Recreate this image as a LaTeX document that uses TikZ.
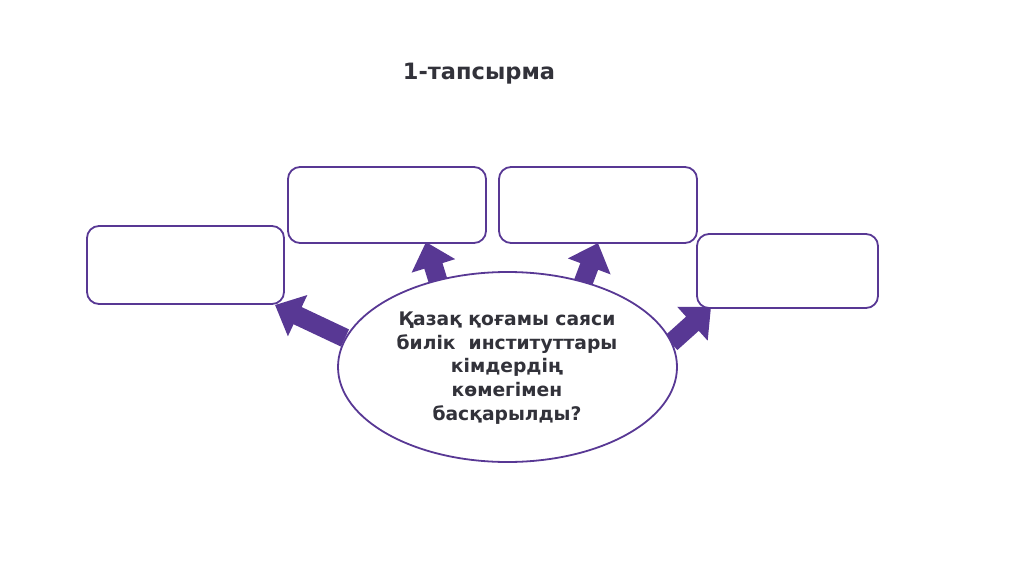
\documentclass[tikz,border=0pt]{standalone}
\usepackage{fontspec}
\setmainfont{DejaVu Sans}
\usetikzlibrary{shapes.geometric,arrows.meta}
\definecolor{pp}{RGB}{88,56,148}
\definecolor{ink}{RGB}{50,50,58}
\tikzset{
  box/.style={draw=pp, line width=1.8pt, fill=white, rounded corners=12pt, minimum width=#1, inner sep=0pt},
  bigarrow/.style={pp, line width=19pt, -{Triangle[width=44pt 0,length=25pt 0]}},
}
\begin{document}
\begin{tikzpicture}[x=1pt,y=1pt]
\useasboundingbox (0,0) rectangle (1024,574);
% arrows
\coordinate (s1) at (345,236); \coordinate (t1) at (275,269);
\coordinate (s2) at (439,290); \coordinate (t2) at (426,332);
\coordinate (s3) at (583,291); \coordinate (t3) at (598,331);
\coordinate (s4) at (671,231); \coordinate (t4) at (711,267);
\draw[bigarrow] (s1) -- (t1);
\draw[bigarrow] (s2) -- (t2);
\draw[bigarrow] (s3) -- (t3);
\draw[bigarrow] (s4) -- (t4);
% boxes
\node[box=197pt, minimum height=78pt] (bA) at (185.5,309) {};
\node[box=198pt, minimum height=76pt] (bB) at (387,369) {};
\node[box=198pt, minimum height=76pt] (bC) at (598,369) {};
\node[box=181pt, minimum height=74pt] (bD) at (787.5,303) {};
% ellipse
\node[ellipse, draw=pp, line width=1.8pt, fill=white, minimum width=339pt, minimum height=190pt, inner sep=0pt] (ell) at (507.5,207) {};
\node[align=center, text=ink, font=\bfseries\fontsize{18.7}{23.8}\selectfont] (q) at (507,206)
  {Қазақ қоғамы саяси\\билік\ \ институттары\\кімдердің\\көмегімен\\басқарылды?};
% title
\node[text=ink, font=\bfseries\fontsize{22.5}{26}\selectfont] (title) at (479,500) {1-тапсырма};
\end{tikzpicture}
\end{document}
